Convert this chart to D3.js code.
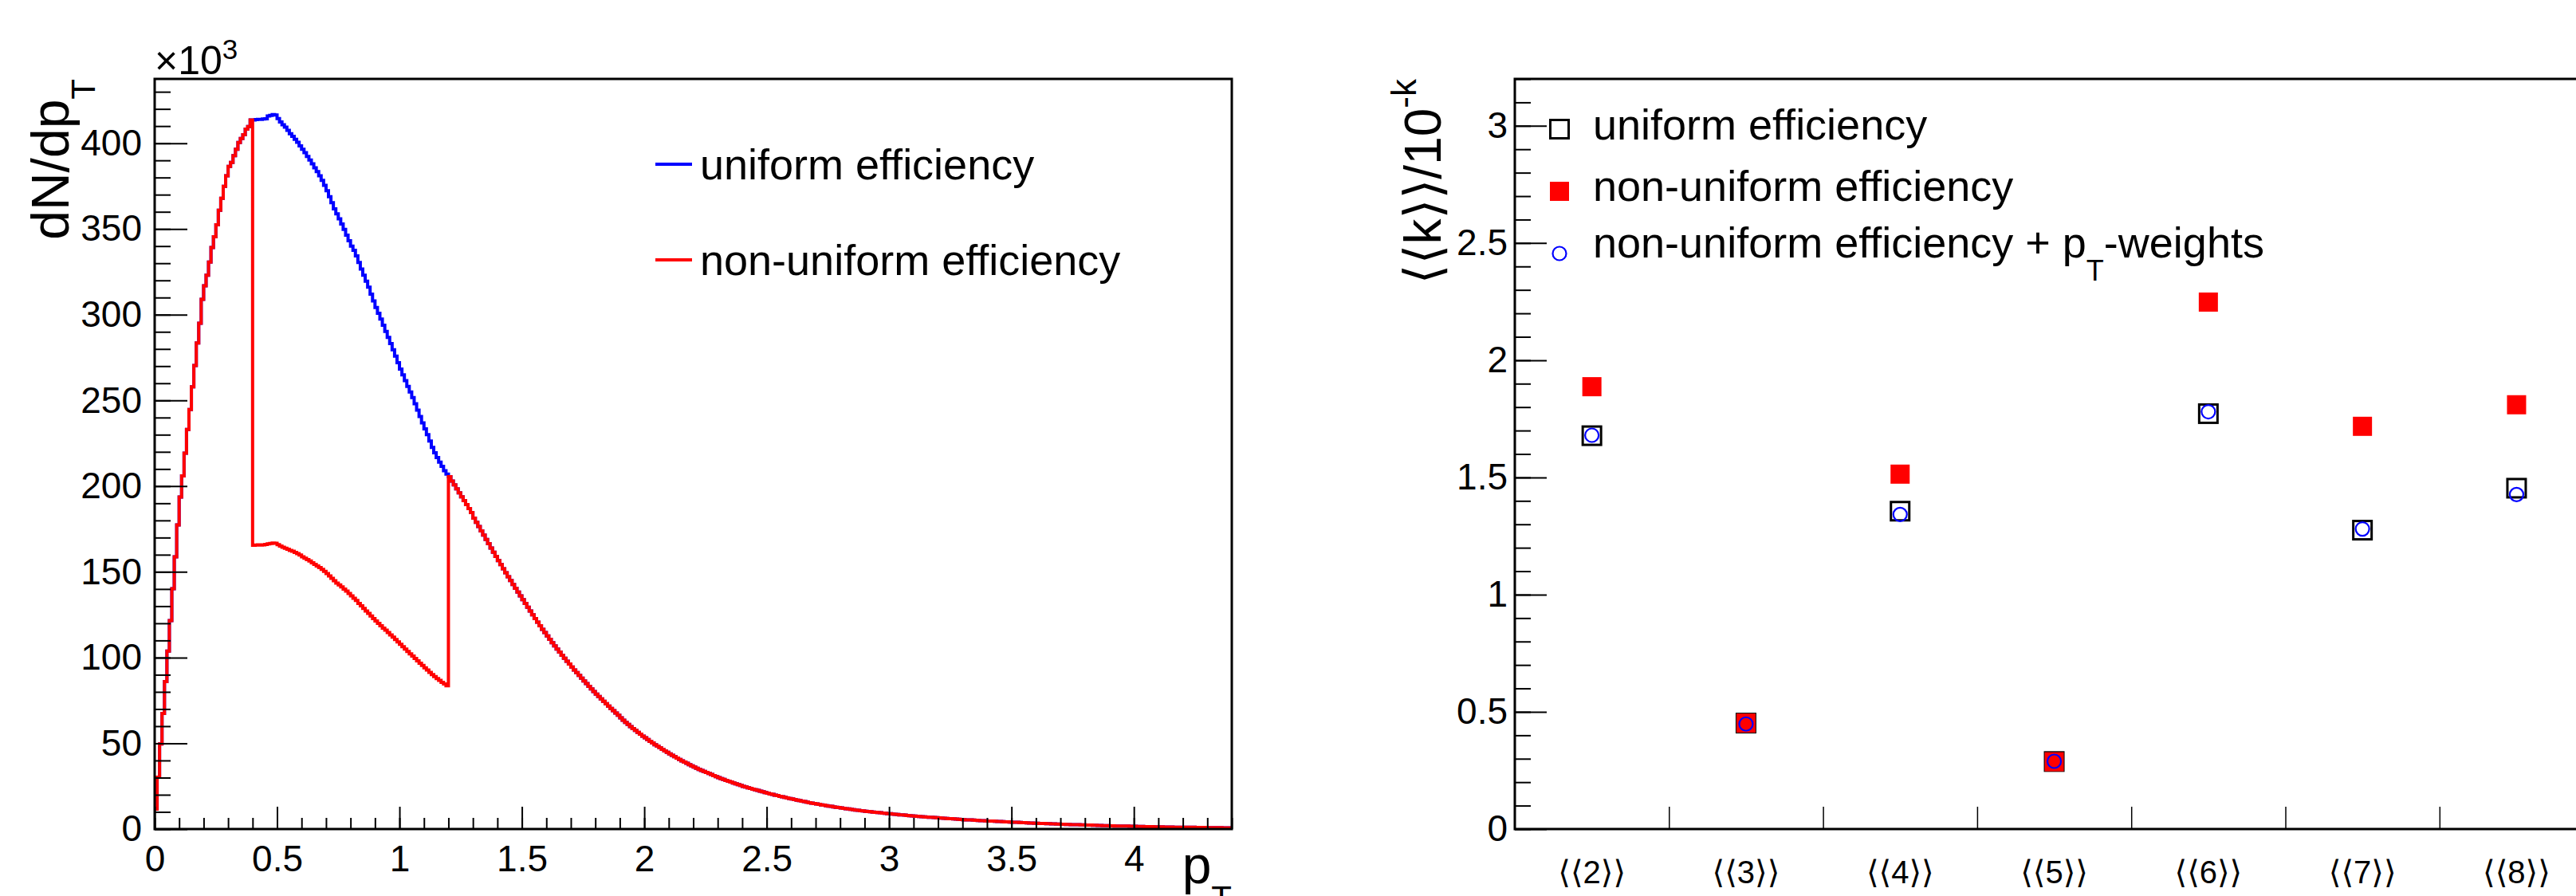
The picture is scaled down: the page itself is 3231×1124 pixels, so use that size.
<!DOCTYPE html>
<html>
<head>
<meta charset="utf-8">
<script src="https://cdn.jsdelivr.net/npm/d3@7/dist/d3.min.js"></script>
<style>
  body { margin: 0; background: #fff; }
  svg { display: block; font-family: "Liberation Sans", Arial, Helvetica, sans-serif; }
</style>
</head>
<body>
<div id="chart"></div>
<script>
// ---------- left pad: dN/dpT, bins of 0.01 from 0 to 4.4, values in units of 10^3
const binWidth = 0.01;
const uniformEff = [
  11.6, 30.2, 49.6, 67.4, 86.0, 103.8, 121.6, 140.2, 158.8, 177.4,
  193.6, 206.0, 219.2, 233.1, 244.7, 257.9, 270.3, 283.5, 295.0, 309.0,
  316.8, 323.0, 330.7, 339.2, 345.4, 352.4, 360.9, 367.9, 374.9, 381.0,
  386.5, 388.8, 392.7, 396.5, 400.4, 402.7, 405.0, 408.2, 409.7, 413.6,
  413.6, 413.8, 413.9, 413.9, 414.1, 414.3, 415.9, 416.2, 416.7, 416.5,
  414.4, 412.4, 410.8, 409.4, 407.5, 405.5, 404.0, 402.3, 400.5, 398.5,
  396.5, 394.5, 392.3, 390.2, 388.0, 385.7, 383.4, 381.0, 378.3, 375.4,
  372.3, 368.8, 365.3, 361.7, 358.8, 355.9, 352.9, 349.7, 346.4, 343.1,
  340.0, 337.5, 334.3, 330.5, 326.6, 323.0, 319.5, 316.0, 312.0, 308.0,
  304.2, 300.8, 297.4, 293.8, 290.2, 286.7, 283.2, 279.5, 275.8, 272.0,
  268.3, 264.9, 261.5, 258.2, 254.9, 251.6, 248.0, 244.3, 240.6, 236.9,
  233.4, 230.0, 226.3, 222.6, 219.4, 216.6, 214.0, 211.5, 209.0, 207.0,
  205.5, 203.0, 200.7, 198.4, 196.1, 193.8, 191.5, 189.2, 186.9, 184.6,
  181.3, 178.9, 176.4, 173.9, 171.4, 168.9, 166.4, 163.9, 161.4, 159.0,
  156.6, 154.2, 151.8, 149.5, 147.2, 144.9, 142.6, 140.4, 138.2, 136.0,
  133.8, 131.6, 129.4, 127.2, 125.0, 122.8, 120.6, 118.5, 116.5, 114.6,
  112.6, 110.6, 108.7, 106.8, 105.0, 103.2, 101.4, 99.6, 97.9, 96.2,
  94.5, 92.8, 91.2, 89.6, 88.0, 86.4, 84.8, 83.2, 81.7, 80.2,
  78.7, 77.3, 75.9, 74.5, 73.1, 71.7, 70.3, 69.0, 67.7, 66.4,
  64.8, 63.5, 62.2, 61.0, 59.8, 58.6, 57.5, 56.4, 55.3, 54.2,
  53.2, 52.2, 51.2, 50.2, 49.2, 48.3, 47.4, 46.5, 45.6, 44.7,
  43.8, 43.0, 42.2, 41.4, 40.6, 39.8, 39.0, 38.3, 37.6, 36.9,
  36.2, 35.5, 34.8, 34.2, 33.6, 33.0, 32.4, 31.8, 31.2, 30.6,
  30.0, 29.4, 28.9, 28.4, 27.9, 27.4, 26.9, 26.4, 25.9, 25.4,
  24.9, 24.5, 24.1, 23.7, 23.3, 22.9, 22.5, 22.1, 21.7, 21.3,
  20.9, 20.5, 20.2, 19.8, 19.5, 19.1, 18.8, 18.5, 18.1, 17.8,
  17.5, 17.2, 16.9, 16.6, 16.3, 16.0, 15.7, 15.4, 15.1, 14.9,
  14.6, 14.4, 14.1, 13.9, 13.6, 13.4, 13.2, 12.9, 12.7, 12.5,
  12.3, 12.1, 11.9, 11.7, 11.5, 11.3, 11.1, 10.9, 10.7, 10.6,
  10.4, 10.2, 10.1, 9.9, 9.8, 9.6, 9.5, 9.3, 9.2, 9.0,
  8.9, 8.7, 8.6, 8.5, 8.3, 8.2, 8.1, 7.9, 7.8, 7.7,
  7.6, 7.4, 7.3, 7.2, 7.1, 7.0, 6.9, 6.8, 6.7, 6.6,
  6.5, 6.4, 6.3, 6.2, 6.1, 6.0, 5.9, 5.8, 5.7, 5.6,
  5.5, 5.4, 5.3, 5.3, 5.2, 5.1, 5.0, 4.9, 4.9, 4.8,
  4.7, 4.6, 4.6, 4.5, 4.4, 4.4, 4.3, 4.2, 4.2, 4.1,
  4.0, 3.9, 3.9, 3.8, 3.7, 3.7, 3.6, 3.5, 3.5, 3.4,
  3.4, 3.3, 3.3, 3.2, 3.1, 3.1, 3.0, 3.0, 2.9, 2.9,
  2.8, 2.8, 2.7, 2.7, 2.6, 2.6, 2.5, 2.5, 2.4, 2.4,
  2.3, 2.3, 2.3, 2.2, 2.2, 2.1, 2.1, 2.0, 2.0, 2.0,
  1.9, 1.9, 1.8, 1.8, 1.8, 1.7, 1.7, 1.7, 1.6, 1.6,
  1.6, 1.5, 1.5, 1.5, 1.4, 1.4, 1.4, 1.4, 1.3, 1.3,
  1.3, 1.3, 1.2, 1.2, 1.2, 1.2, 1.1, 1.1, 1.1, 1.1,
  1.0, 1.0, 1.0, 1.0, 1.0, 0.9, 0.9, 0.9, 0.9, 0.9,
  0.8, 0.8, 0.8, 0.8, 0.8, 0.8, 0.7, 0.7, 0.7, 0.7
];
// non-uniform efficiency: same as above except bins 0.40 - 1.20
const dipFirstBin = 40;
const nonUniformDip = [
  165.5, 165.6, 165.7, 165.6, 165.8, 166.0, 166.3, 166.6, 166.8, 166.7,
  165.9, 165.1, 164.3, 163.8, 163.2, 162.5, 162.0, 161.3, 160.6, 159.8,
  158.8, 158.0, 157.2, 156.3, 155.3, 154.4, 153.4, 152.5, 151.4, 150.3,
  149.0, 147.6, 146.2, 144.8, 143.4, 142.4, 141.2, 140.0, 138.8, 137.4,
  136.0, 134.6, 133.3, 131.6, 130.2, 128.7, 127.2, 125.8, 124.2, 122.7,
  121.3, 120.0, 118.6, 117.2, 116.0, 114.6, 113.2, 111.9, 110.5, 109.1,
  107.7, 106.3, 105.0, 103.6, 102.2, 100.9, 99.5, 98.1, 96.7, 95.4,
  94.0, 92.7, 91.4, 90.1, 88.9, 87.8, 86.7, 85.6, 84.6, 83.6
];
const ptTicks = [0, 0.5, 1, 1.5, 2, 2.5, 3, 3.5, 4];
const dndptTicks = [0, 50, 100, 150, 200, 250, 300, 350, 400];

// ---------- right pad: cumulants / 10^-k
const cumulants = ["⟨⟨2⟩⟩", "⟨⟨3⟩⟩", "⟨⟨4⟩⟩", "⟨⟨5⟩⟩", "⟨⟨6⟩⟩", "⟨⟨7⟩⟩", "⟨⟨8⟩⟩"];
const uniformPts    = [1.678, 0.452, 1.356, 0.288, 1.772, 1.275, 1.454];
const nonUniformPts = [1.887, 0.452, 1.514, 0.287, 2.248, 1.718, 1.810];
const weightedPts   = [1.680, 0.448, 1.342, 0.289, 1.780, 1.280, 1.427];
const kTicks = [0, 0.5, 1, 1.5, 2, 2.5, 3];

const W = 3231, H = 1124;
const svg = d3.select("#chart").append("svg")
  .attr("width", W)
  .attr("height", H);

function styleAxis(g, fontSize) {
  g.select(".domain").remove();
  g.selectAll(".tick line").attr("stroke", "#000").attr("stroke-width", 2);
  g.selectAll(".tick text")
    .attr("fill", "#000")
    .attr("font-size", fontSize)
    .attr("font-family", `"Liberation Sans", "DejaVu Sans", Arial, sans-serif`);
}

// ===== left pad =====
const L = {x0: 194, x1: 1545, y0: 99, y1: 1040};
const x = d3.scaleLinear().domain([0, 4.4]).range([L.x0, L.x1]);
const y = d3.scaleLinear().domain([0, 437.5]).range([L.y1, L.y0]);

const nonUniformEff = uniformEff.map((v, i) =>
  (i >= dipFirstBin && i < dipFirstBin + nonUniformDip.length) ? nonUniformDip[i - dipFirstBin] : v);

const steps = vals => {
  const pts = vals.map((v, i) => [i * binWidth, v]);
  pts.push([vals.length * binWidth, vals[vals.length - 1]]);
  return pts;
};
const histLine = d3.line()
  .x(d => x(d[0]))
  .y(d => y(d[1]))
  .curve(d3.curveStepAfter);

svg.append("path")
  .attr("d", histLine(steps(uniformEff)))
  .attr("fill", "none")
  .attr("stroke", "#0000ff")
  .attr("stroke-width", 4);
svg.append("path")
  .attr("d", histLine(steps(nonUniformEff)))
  .attr("fill", "none")
  .attr("stroke", "#ff0000")
  .attr("stroke-width", 4);

// x axis (ticks point inwards)
svg.append("g")
  .attr("transform", `translate(0,${L.y1})`)
  .call(d3.axisBottom(x).tickValues(d3.range(0, 4.41, 0.1)).tickSizeInner(-14).tickSizeOuter(0).tickFormat(""))
  .call(g => styleAxis(g, 46));
svg.append("g")
  .attr("transform", `translate(0,${L.y1})`)
  .call(d3.axisBottom(x).tickValues(ptTicks).tickSizeInner(-28).tickSizeOuter(0).tickPadding(20)
          .tickFormat(d => String(d)))
  .call(g => styleAxis(g, 46));

// y axis
svg.append("g")
  .attr("transform", `translate(${L.x0},0)`)
  .call(d3.axisLeft(y).tickValues(d3.range(0, 431, 10)).tickSizeInner(-20).tickSizeOuter(0).tickFormat(""))
  .call(g => styleAxis(g, 46));
svg.append("g")
  .attr("transform", `translate(${L.x0},0)`)
  .call(d3.axisLeft(y).tickValues(dndptTicks).tickSizeInner(-41).tickSizeOuter(0).tickPadding(16)
          .tickFormat(d => String(d)))
  .call(g => styleAxis(g, 46));

svg.append("rect")
  .attr("x", L.x0).attr("y", L.y0)
  .attr("width", L.x1 - L.x0).attr("height", L.y1 - L.y0)
  .attr("fill", "none").attr("stroke", "#000").attr("stroke-width", 3);

// exponent
const expo = svg.append("text").attr("x", L.x0).attr("y", 93).attr("font-size", 50).text("×10");
expo.append("tspan").attr("font-size", 35).attr("dy", -19).text("3");

// axis titles
const yTitle = svg.append("text")
  .attr("transform", `translate(86,${L.y0}) rotate(-90)`)
  .attr("text-anchor", "end")
  .attr("font-size", 66)
  .text("dN/dp");
yTitle.append("tspan").attr("font-size", 42).attr("dy", 33).text("T");

const xTitle = svg.append("text")
  .attr("x", L.x1).attr("y", 1108)
  .attr("text-anchor", "end")
  .attr("font-size", 66)
  .text("p");
xTitle.append("tspan").attr("font-size", 42).attr("dy", 33).text("T");

// legend
const legL = [
  {label: "uniform efficiency", color: "#0000ff", yy: 206},
  {label: "non-uniform efficiency", color: "#ff0000", yy: 326}
];
legL.forEach(d => {
  svg.append("line")
    .attr("x1", 822).attr("x2", 868).attr("y1", d.yy).attr("y2", d.yy)
    .attr("stroke", d.color).attr("stroke-width", 4);
  svg.append("text")
    .attr("x", 878).attr("y", d.yy + 19)
    .attr("font-size", 54)
    .text(d.label);
});

// ===== right pad =====
const R = {x0: 1900, x1: 1900 + 7 * 193.3, y0: 99, y1: 1040};
const xb = d3.scaleBand().domain(cumulants).range([R.x0, R.x1]);
const xe = d3.scaleLinear().domain([0, cumulants.length]).range([R.x0, R.x1]);
const yk = d3.scaleLinear().domain([0, 3.2]).range([R.y1, R.y0]);

svg.append("g")
  .attr("transform", `translate(0,${R.y1})`)
  .call(d3.axisBottom(xe).tickValues(d3.range(1, cumulants.length + 1)).tickSizeInner(-28).tickSizeOuter(0).tickFormat(""))
  .call(g => styleAxis(g, 40))
  .call(g => g.selectAll(".tick line").attr("stroke-width", 1.5));
svg.append("g")
  .attr("transform", `translate(0,${R.y1})`)
  .call(d3.axisBottom(xb).tickSize(0).tickPadding(40))
  .call(g => styleAxis(g, 40));

svg.append("g")
  .attr("transform", `translate(${R.x0},0)`)
  .call(d3.axisLeft(yk).tickValues(d3.range(0, 3.21, 0.1)).tickSizeInner(-20).tickSizeOuter(0).tickFormat(""))
  .call(g => styleAxis(g, 46));
svg.append("g")
  .attr("transform", `translate(${R.x0},0)`)
  .call(d3.axisLeft(yk).tickValues(kTicks).tickSizeInner(-40).tickSizeOuter(0).tickPadding(9)
          .tickFormat(d => String(d)))
  .call(g => styleAxis(g, 46));

svg.append("rect")
  .attr("x", R.x0).attr("y", R.y0)
  .attr("width", R.x1 - R.x0).attr("height", R.y1 - R.y0)
  .attr("fill", "none").attr("stroke", "#000").attr("stroke-width", 3);

const cx = i => xb(cumulants[i]) + xb.bandwidth() / 2;

svg.selectAll(".uni")
  .data(uniformPts)
  .enter()
  .append("rect")
  .attr("class", "uni")
  .attr("x", (d, i) => cx(i) - 11.5)
  .attr("y", d => yk(d) - 11.5)
  .attr("width", 23).attr("height", 23)
  .attr("fill", "none").attr("stroke", "#000").attr("stroke-width", 3);

svg.selectAll(".nonuni")
  .data(nonUniformPts)
  .enter()
  .append("rect")
  .attr("class", "nonuni")
  .attr("x", (d, i) => cx(i) - 12)
  .attr("y", d => yk(d) - 12)
  .attr("width", 24).attr("height", 24)
  .attr("fill", "#ff0000");

svg.selectAll(".wgt")
  .data(weightedPts)
  .enter()
  .append("circle")
  .attr("class", "wgt")
  .attr("cx", (d, i) => cx(i))
  .attr("cy", d => yk(d))
  .attr("r", 8.5)
  .attr("fill", "none").attr("stroke", "#0000ff").attr("stroke-width", 2.2);

// y title
const kTitle = svg.append("text")
  .attr("transform", `translate(1807,${R.y0}) rotate(-90)`)
  .attr("text-anchor", "end")
  .attr("font-size", 64)
  .attr("font-family", `"Liberation Sans", "DejaVu Sans", Arial, sans-serif`)
  .text("⟨⟨k⟩⟩/10");
kTitle.append("tspan").attr("font-size", 44).attr("dy", -31).text("-k");

// legend
const mx = 1956;
svg.append("rect").attr("x", mx - 11.5).attr("y", 162 - 11.5).attr("width", 23).attr("height", 23)
  .attr("fill", "none").attr("stroke", "#000").attr("stroke-width", 3);
svg.append("rect").attr("x", mx - 12).attr("y", 240 - 12).attr("width", 24).attr("height", 24)
  .attr("fill", "#ff0000");
svg.append("circle").attr("cx", mx).attr("cy", 318).attr("r", 8.5)
  .attr("fill", "none").attr("stroke", "#0000ff").attr("stroke-width", 2.2);

svg.append("text").attr("x", 1998).attr("y", 175).attr("font-size", 54).text("uniform efficiency");
svg.append("text").attr("x", 1998).attr("y", 252).attr("font-size", 54).text("non-uniform efficiency");
const l3 = svg.append("text").attr("x", 1998).attr("y", 323).attr("font-size", 54)
  .text("non-uniform efficiency + p");
l3.append("tspan").attr("font-size", 36).attr("dy", 29).text("T");
l3.append("tspan").attr("dy", -29).text("-weights");
</script>
</body>
</html>
